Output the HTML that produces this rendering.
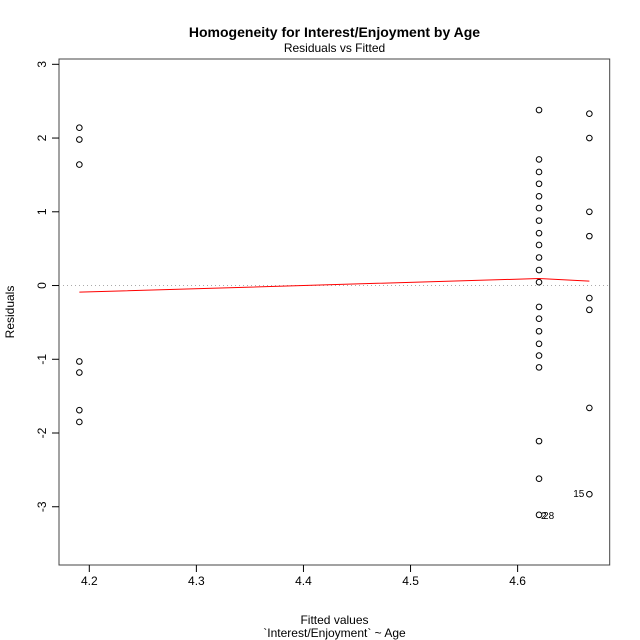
<!DOCTYPE html>
<html><head><meta charset="utf-8"><style>
html,body{margin:0;padding:0;background:#fff;}
svg{display:block;font-family:"Liberation Sans",Arial,sans-serif;}
</style></head><body>
<svg id="chart" width="640" height="640" viewBox="0 0 640 640" xmlns="http://www.w3.org/2000/svg">
<text x="334.5" y="37" text-anchor="middle" font-size="14" font-weight="bold">Homogeneity for Interest/Enjoyment by Age</text>
<text x="334.5" y="52" text-anchor="middle" font-size="12">Residuals vs Fitted</text>
<text x="334.5" y="624" text-anchor="middle" font-size="12">Fitted values</text>
<text x="334.5" y="637" text-anchor="middle" font-size="12">`Interest/Enjoyment` ~ Age</text>
<text transform="translate(14,312) rotate(-90)" text-anchor="middle" font-size="12">Residuals</text>
<g id="plot"></g>
</svg>
<script>
const xTicks = [4.2, 4.3, 4.4, 4.5, 4.6];
const xTickLabels = ["4.2", "4.3", "4.4", "4.5", "4.6"];
const yTicks = [-3, -2, -1, 0, 1, 2, 3];
const yTickLabels = ["-3", "-2", "-1", "0", "1", "2", "3"];
const fitted = [4.1907,4.1907,4.1907,4.1907,4.1907,4.1907,4.1907,
 4.62,4.62,4.62,4.62,4.62,4.62,4.62,4.62,4.62,4.62,4.62,4.62,4.62,4.62,4.62,4.62,4.62,4.62,4.62,4.62,4.62,
 4.667,4.667,4.667,4.667,4.667,4.667,4.667,4.667];
const residuals = [2.14,1.98,1.64,-1.03,-1.18,-1.69,-1.85,
 2.38,1.71,1.54,1.38,1.21,1.05,0.88,0.71,0.55,0.38,0.21,0.045,-0.29,-0.45,-0.62,-0.79,-0.95,-1.11,-2.11,-2.62,-3.11,
 2.33,2.0,1.0,0.67,-0.17,-0.33,-1.66,-2.83];
const smoothX = [4.1907, 4.62, 4.667];
const smoothY = [-0.09, 0.095, 0.06];
const labelNames = ["15", "2", "28"];
const labelX = [4.667, 4.62, 4.62];
const labelY = [-2.83, -3.11, -3.11];

const L=59, R=609.7, T=59, B=565;
const xMin=4.1717, xMax=4.686, yMin=-3.79, yMax=3.072;
const sx = v => L + (v - xMin) / (xMax - xMin) * (R - L);
const sy = v => B - (v - yMin) / (yMax - yMin) * (B - T);
const NS="http://www.w3.org/2000/svg";
const g=document.getElementById('plot');
function mk(tag, attrs){const e=document.createElementNS(NS,tag);for(const k in attrs)e.setAttribute(k,attrs[k]);g.appendChild(e);return e;}

const frame=mk('rect',{x:L,y:T,width:R-L,height:B-T,fill:'none',stroke:'#444','stroke-width':1});



const zl=mk('line',{x1:L,x2:R,y1:sy(0),y2:sy(0),stroke:'#aaa','stroke-dasharray':'1,3','stroke-width':1});



xTicks.forEach((v,i)=>{
  const t=mk('line',{x1:sx(v),x2:sx(v),y1:B,y2:B+7,stroke:'#000'});
  
  
  const tx=mk('text',{x:sx(v),y:B+20,'text-anchor':'middle','font-size':12});
  
  
  tx.textContent=xTickLabels[i];
});
yTicks.forEach((v,i)=>{
  const t=mk('line',{x1:L-7,x2:L,y1:sy(v),y2:sy(v),stroke:'#000'});
  
  
  const tx=mk('text',{transform:`translate(${L-13},${sy(v)}) rotate(-90)`,'text-anchor':'middle','font-size':12});
  
  
  tx.textContent=yTickLabels[i];
});

fitted.forEach((v,i)=>{
  const c=mk('circle',{cx:sx(v),cy:sy(residuals[i]),r:2.8,fill:'none',stroke:'#000','stroke-width':1});
  
  
});

const pl=mk('polyline',{points:smoothX.map((v,i)=>sx(v)+','+sy(smoothY[i])).join(' '),fill:'none',stroke:'#ff0000','stroke-width':1});



const labelDx=[-5,2,4];
labelNames.forEach((n,i)=>{
  const tx=mk('text',{x:sx(labelX[i])+labelDx[i],y:sy(labelY[i])+(i===0?3:4),'text-anchor':i===0?'end':'start','font-size':10});
  
  
  tx.textContent=n;
});
</script>
</body></html>
